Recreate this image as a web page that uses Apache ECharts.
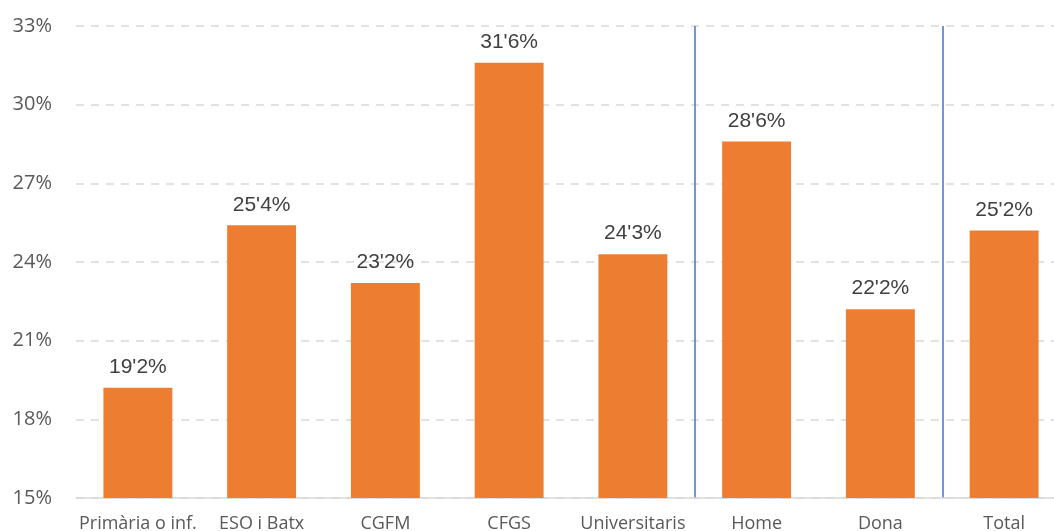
<!DOCTYPE html>
<html>
<head>
<meta charset="utf-8">
<script src="https://cdn.jsdelivr.net/npm/echarts@6/dist/echarts.min.js"></script>
<style>
html,body{margin:0;padding:0;background:#fff;}
#chart{width:1054px;height:531px;}
</style>
</head>
<body>
<div id="chart"></div>
<script>
const categories = ['Primària o inf.', 'ESO i Batx', 'CGFM', 'CFGS', 'Universitaris', 'Home', 'Dona', 'Total'];
const values = [19.2, 25.4, 23.2, 31.6, 24.3, 28.6, 22.2, 25.2];
const separatorBefore = [5, 7];
const yMin = 15, yMax = 33, yStep = 3;

const chart = echarts.init(document.getElementById('chart'), null, {renderer: 'canvas'});
chart.setOption({
  animation: false,
  backgroundColor: '#ffffff',
  grid: {left: 76, right: -12, top: 26, bottom: 33, containLabel: false, outerBoundsMode: 'none'},
  xAxis: {
    type: 'category',
    data: categories,
    boundaryGap: true,
    axisLine: {show: true, lineStyle: {color: '#D9D9D9', width: 1.5}},
    axisTick: {show: false},
    axisLabel: {color: '#595959', fontFamily: 'Open Sans', fontSize: 18, margin: 17, interval: 0},
    splitLine: {
      show: true,
      interval: function (i) { return separatorBefore.indexOf(i) >= 0; },
      lineStyle: {color: '#4472C4', width: 1.5, type: 'solid'}
    }
  },
  yAxis: {
    type: 'value',
    min: yMin, max: yMax, interval: yStep,
    axisLine: {show: false},
    axisTick: {show: false},
    axisLabel: {color: '#595959', fontFamily: 'Open Sans', fontSize: 20, margin: 24, formatter: '{value}%'},
    splitLine: {show: true, lineStyle: {color: '#D9D9D9', width: 1.5, type: [8, 7]}}
  },
  series: [{
    type: 'bar',
    data: values,
    barWidth: '55.7%',
    itemStyle: {color: '#ED7D31'},
    label: {
      show: true,
      position: 'top',
      distance: 10,
      color: '#404040',
      fontFamily: 'Liberation Sans',
      fontSize: 21,
      formatter: function (p) { return p.value.toFixed(1).replace('.', "'") + '%'; }
    }
  }]
});
</script>
</body>
</html>
